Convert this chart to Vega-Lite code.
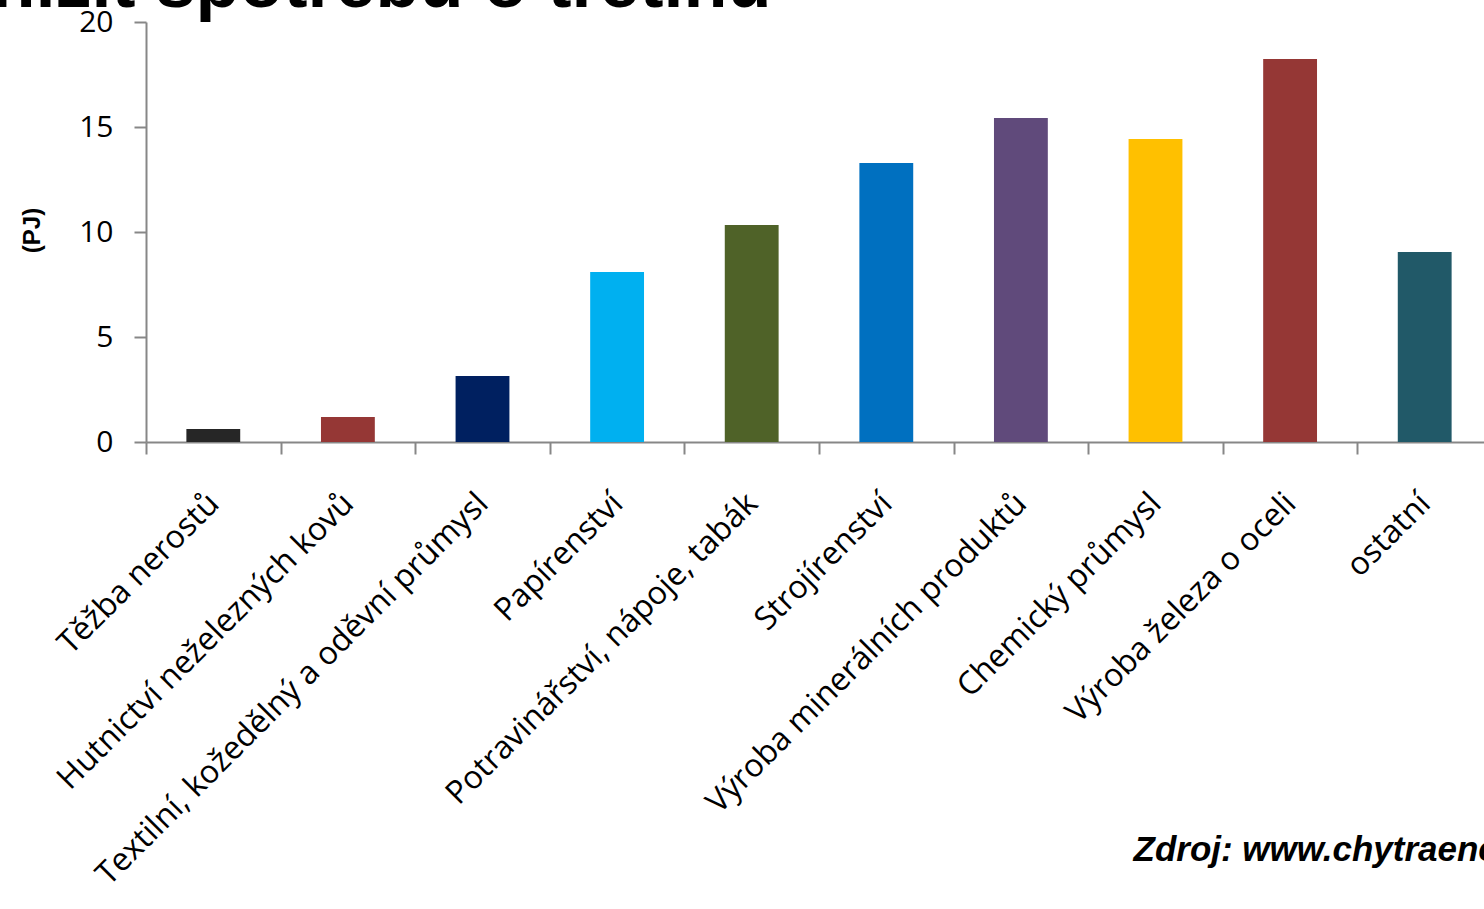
{
  "$schema": "https://vega.github.io/schema/vega-lite/v6.json",
  "autosize": "none",
  "width": 1346,
  "height": 420,
  "padding": {"left": 146, "top": 22, "right": 0, "bottom": 467},
  "background": "white",
  "data": {
    "values": [
      {"odvetvi": "Těžba nerostů", "pj": 0.62},
      {"odvetvi": "Hutnictví neželezných kovů", "pj": 1.19},
      {"odvetvi": "Textilní, kožedělný a oděvní průmysl", "pj": 3.14},
      {"odvetvi": "Papírenství", "pj": 8.1},
      {"odvetvi": "Potravinářství, nápoje, tabák", "pj": 10.33},
      {"odvetvi": "Strojírenství", "pj": 13.29},
      {"odvetvi": "Výroba minerálních produktů", "pj": 15.43},
      {"odvetvi": "Chemický průmysl", "pj": 14.43},
      {"odvetvi": "Výroba železa o oceli", "pj": 18.24},
      {"odvetvi": "ostatní", "pj": 9.05}
    ]
  },
  "layer": [
    {
      "mark": {"type": "bar", "width": {"band": 0.4}},
      "encoding": {
        "x": {
          "field": "odvetvi",
          "type": "nominal",
          "sort": null,
          "scale": {"paddingInner": 0, "paddingOuter": 0},
          "axis": {
            "title": "Zdroj: www.chytraenergie.info",
            "titleFont": "Liberation Sans",
            "titleFontSize": 35,
            "titleFontWeight": "bold",
            "titleFontStyle": "italic",
            "titleColor": "black",
            "titleX": 987,
            "titleY": 418,
            "titleAlign": "left",
            "titleBaseline": "alphabetic",
            "labelAngle": -45,
            "labelAlign": "right",
            "labelBaseline": "middle",
            "labelFont": "Open Sans",
            "labelFontSize": 32,
            "labelColor": "black",
            "labelPadding": 44,
            "labelOverlap": false,
            "labelLimit": 0,
            "domainColor": "#878787",
            "domainWidth": 2,
            "tickColor": "#878787",
            "tickWidth": 2,
            "tickSize": 12,
            "tickBand": "extent",
            "grid": false
          }
        },
        "y": {
          "field": "pj",
          "type": "quantitative",
          "scale": {"domain": [0, 20], "nice": false},
          "axis": {
            "title": "(PJ)",
            "titleFont": "Liberation Sans",
            "titleFontSize": 24,
            "titleFontWeight": "bold",
            "titleColor": "black",
            "titleAngle": -90,
            "titleX": -114,
            "titleY": 208,
            "titleAlign": "center",
            "titleBaseline": "middle",
            "values": [0, 5, 10, 15, 20],
            "labelFont": "Open Sans",
            "labelFontSize": 30,
            "labelColor": "black",
            "labelPadding": 21,
            "domainColor": "#878787",
            "domainWidth": 2,
            "tickColor": "#878787",
            "tickWidth": 2,
            "tickSize": 12,
            "grid": false
          }
        },
        "color": {
          "field": "odvetvi",
          "type": "nominal",
          "legend": null,
          "scale": {
            "domain": ["Těžba nerostů", "Hutnictví neželezných kovů", "Textilní, kožedělný a oděvní průmysl", "Papírenství", "Potravinářství, nápoje, tabák", "Strojírenství", "Výroba minerálních produktů", "Chemický průmysl", "Výroba železa o oceli", "ostatní"],
            "range": ["#262626", "#953735", "#002060", "#00B0F0", "#4F6228", "#0070C0", "#604A7B", "#FFC000", "#953735", "#215968"]
          }
        }
      }
    },
    {
      "mark": {"type": "bar", "width": {"band": 0.4}, "opacity": 0},
      "encoding": {
        "x": {
          "field": "odvetvi",
          "type": "nominal",
          "sort": null,
          "scale": {"paddingInner": 0, "paddingOuter": 0},
          "axis": {
            "orient": "top",
            "title": "Snížit spotřebu o třetinu",
            "titleFont": "Liberation Sans",
            "titleFontSize": 72,
            "titleFontWeight": "bold",
            "titleColor": "black",
            "titleX": -203,
            "titleY": -16,
            "titleAlign": "left",
            "titleBaseline": "alphabetic",
            "domain": false,
            "ticks": false,
            "labels": false,
            "grid": false
          }
        },
        "y": {"field": "pj", "type": "quantitative"}
      }
    }
  ],
  "resolve": {"axis": {"x": "independent"}},
  "config": {"view": {"stroke": null}}
}
